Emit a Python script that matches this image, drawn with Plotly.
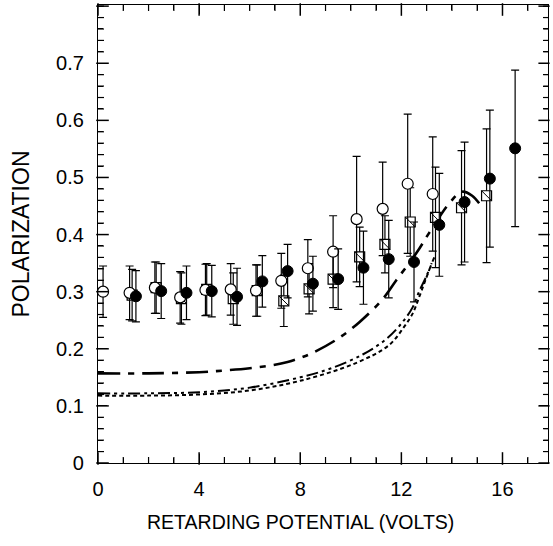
import plotly.graph_objects as go

# ---- data ----
open_x = [0.2, 1.25, 2.25, 3.25, 4.25, 5.25, 6.25, 7.25, 8.3, 9.3, 10.23, 11.26, 12.25, 13.24]
open_y = [0.300, 0.298, 0.307, 0.290, 0.303, 0.304, 0.302, 0.319, 0.341, 0.370, 0.427, 0.445, 0.489, 0.471]
open_err = [0.045, 0.047, 0.045, 0.045, 0.045, 0.045, 0.045, 0.048, 0.050, 0.063, 0.110, 0.082, 0.122, 0.100]

filled_x = [1.5, 2.5, 3.5, 4.5, 5.5, 6.5, 7.5, 8.5, 9.5, 10.5, 11.5, 12.5, 13.5, 14.5, 15.5, 16.5]
filled_y = [0.292, 0.301, 0.298, 0.301, 0.291, 0.318, 0.336, 0.314, 0.322, 0.342, 0.357, 0.352, 0.417, 0.457, 0.498, 0.551]
filled_err = [0.045, 0.048, 0.047, 0.045, 0.050, 0.045, 0.047, 0.048, 0.053, 0.064, 0.068, 0.070, 0.090, 0.105, 0.120, 0.137]

square_x = [1.35, 2.3, 3.3, 4.3, 5.35, 6.3, 7.35, 8.35, 9.3, 10.35, 11.35, 12.35, 13.35, 14.38, 15.37]
square_y = [0.294, 0.307, 0.288, 0.304, 0.288, 0.302, 0.284, 0.305, 0.322, 0.361, 0.383, 0.422, 0.430, 0.447, 0.468]
square_err = [0.045, 0.045, 0.045, 0.045, 0.045, 0.045, 0.045, 0.044, 0.050, 0.052, 0.050, 0.060, 0.088, 0.100, 0.117]

# theory curves
curve1_x = [0, 2, 4, 5, 6, 7, 7.5, 8, 8.5, 9.5, 10.35, 11.26, 11.8, 12.6, 13.1, 13.9, 14.4, 14.8, 15.2]
curve1_y = [0.157, 0.157, 0.159, 0.162, 0.166, 0.172, 0.177, 0.184, 0.193, 0.218, 0.247, 0.287, 0.320, 0.368, 0.403, 0.455, 0.475, 0.468, 0.447]

curve2_x = [0, 2, 4, 6, 8, 9.17, 10.47, 11.4, 12.05, 12.45, 12.7, 13.0, 13.3]
curve2_y = [0.122, 0.122, 0.124, 0.132, 0.150, 0.165, 0.190, 0.217, 0.247, 0.273, 0.300, 0.328, 0.360]

curve3_x = [0, 2, 4, 6, 8, 10.2, 11.5, 12.1, 12.45, 12.7, 12.95, 13.2]
curve3_y = [0.118, 0.118, 0.120, 0.127, 0.144, 0.175, 0.206, 0.238, 0.262, 0.290, 0.320, 0.350]

# axis ticks / labels
X_MAX = 17.8
Y_MAX = 0.802
x_ticks = [0, 4, 8, 12, 16]
x_minor = list(range(0, 18))
y_ticks = [0, 0.1, 0.2, 0.3, 0.4, 0.5, 0.6, 0.7]
y_minor = [round(i * 0.02, 2) for i in range(41)]
y_ticktext = ["0", "0.1", "0.2", "0.3", "0.4", "0.5", "0.6", "0.7"]

FONT = "Liberation Sans, Arial, Helvetica, sans-serif"
W, H = 553, 546
ML, MR, MT, MB = 98, 5, 5, 83
PW, PH = W - ML - MR, H - MT - MB
XU = X_MAX / PW   # data units per pixel
YU = Y_MAX / PH

fig = go.Figure()

fig.add_trace(go.Scatter(x=curve1_x, y=curve1_y, mode="lines",
                         line=dict(color="black", width=2.6, dash="22px,8px,6px,8px", shape="spline")))
fig.add_trace(go.Scatter(x=curve2_x, y=curve2_y, mode="lines",
                         line=dict(color="black", width=2, dash="12px,4px,3px,4px,3px,4px", shape="spline")))
fig.add_trace(go.Scatter(x=curve3_x, y=curve3_y, mode="lines",
                         line=dict(color="black", width=2, dash="4px,3px", shape="spline")))

eb = lambda arr: dict(type="data", array=arr, color="black", thickness=1.2, width=4)

fig.add_trace(go.Scatter(x=square_x, y=square_y, mode="markers", error_y=eb(square_err),
                         marker=dict(symbol="square", size=10, color="white",
                                     line=dict(color="black", width=1.2))))
fig.add_trace(go.Scatter(x=square_x, y=square_y, mode="markers",
                         marker=dict(symbol="line-nw", size=10, color="black",
                                     line=dict(color="black", width=1))))
fig.add_trace(go.Scatter(x=open_x, y=open_y, mode="markers", error_y=eb(open_err),
                         marker=dict(symbol="circle", size=11, color="white",
                                     line=dict(color="black", width=1.2))))
fig.add_trace(go.Scatter(x=filled_x, y=filled_y, mode="markers", error_y=eb(filled_err),
                         marker=dict(symbol="circle", size=11, color="black",
                                     line=dict(color="black", width=1))))

# inside tick marks drawn as line markers sitting just inside the frame
def tick_trace(xs, ys, symbol, length, width):
    return go.Scatter(x=xs, y=ys, mode="markers", hoverinfo="skip", cliponaxis=False,
                      marker=dict(symbol=symbol, size=length, color="black",
                                  line=dict(color="black", width=width)))

x_minor_only = [v for v in x_minor if v not in x_ticks]
y_minor_only = [v for v in y_minor if all(abs(v - t) > 1e-9 for t in y_ticks)]
y_major_all = y_ticks + [0.8]

for length, width, xs in [(9, 1.5, x_ticks), (5, 1.2, x_minor_only)]:
    fig.add_trace(tick_trace(xs, [length / 2 * YU] * len(xs), "line-ns", length, width))
    fig.add_trace(tick_trace(xs, [Y_MAX - length / 2 * YU] * len(xs), "line-ns", length, width))
for length, width, ys in [(9, 1.5, y_major_all), (5, 1.2, y_minor_only)]:
    fig.add_trace(tick_trace([length / 2 * XU] * len(ys), ys, "line-ew", length, width))
for length, width, ys in [(8, 1.5, y_major_all), (4, 1.2, y_minor_only)]:
    fig.add_trace(tick_trace([X_MAX - length / 2 * XU] * len(ys), ys, "line-ew", length, width))

fig.update_layout(
    width=W, height=H,
    margin=dict(l=ML, r=MR, t=MT, b=MB),
    paper_bgcolor="white", plot_bgcolor="white",
    showlegend=False,
    font=dict(family=FONT, color="black", size=20),
    xaxis=dict(range=[0, X_MAX], tickmode="array", tickvals=x_ticks,
               ticks="inside", ticklen=9, tickwidth=1, tickcolor="black",
               showline=True, linecolor="black", linewidth=1.3, mirror="allticks",
               showgrid=False, zeroline=False, ticklabelstandoff=8,
               tickfont=dict(size=20),
               minor=dict(tickmode="linear", dtick=1, tick0=0, ticks="inside", ticklen=5,
                          tickwidth=1, tickcolor="black", showgrid=False)),
    yaxis=dict(range=[0, Y_MAX], tickmode="array", tickvals=y_ticks, ticktext=y_ticktext,
               ticks="inside", ticklen=9, tickwidth=1, tickcolor="black",
               showline=True, linecolor="black", linewidth=1.3, mirror="allticks",
               showgrid=False, zeroline=False, ticklabelstandoff=9,
               tickfont=dict(size=20),
               minor=dict(tickmode="linear", dtick=0.02, tick0=0, ticks="inside", ticklen=5,
                          tickwidth=1, tickcolor="black", showgrid=False),
               title=dict(text="POLARIZATION", font=dict(size=23), standoff=19)),
    annotations=[dict(text="RETARDING POTENTIAL (VOLTS)", xref="paper", yref="paper",
                      x=0.449, y=0, yshift=-59, xanchor="center", yanchor="middle",
                      showarrow=False, font=dict(size=19.5))],
)

fig.write_html("out.html")
